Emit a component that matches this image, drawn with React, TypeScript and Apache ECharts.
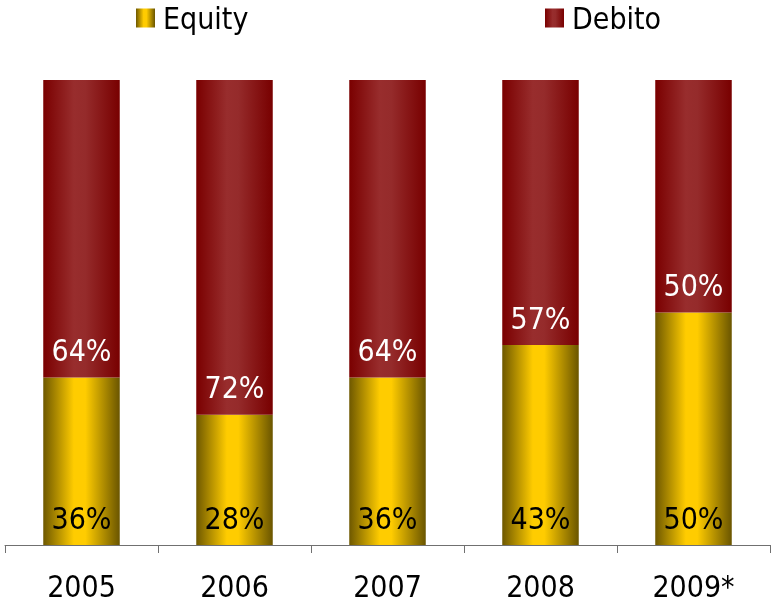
import React, { useEffect, useRef } from "react";
import * as echarts from "echarts";

const categories = ["2005", "2006", "2007", "2008", "2009*"];
const equity = [36, 28, 36, 43, 50];
const debito = [64, 72, 64, 57, 50];

const FONT = "DejaVu Sans Condensed";

const equityGrad = new echarts.graphic.LinearGradient(0, 0, 1, 0, [
  { offset: 0, color: "#6e5800" },
  { offset: 0.4, color: "#ffcc00" },
  { offset: 0.55, color: "#ffcc00" },
  { offset: 1, color: "#6a5500" },
]);
const debitoGrad = new echarts.graphic.LinearGradient(0, 0, 1, 0, [
  { offset: 0, color: "#7a0000" },
  { offset: 0.4, color: "#982d2d" },
  { offset: 0.55, color: "#952b2b" },
  { offset: 1, color: "#780000" },
]);

export default function App() {
  const ref = useRef<HTMLDivElement>(null);
  useEffect(() => {
    if (!ref.current) return;
    const chart = echarts.init(ref.current, null, { renderer: "svg" });
    chart.setOption({
      animation: false,
      textStyle: { fontFamily: FONT },
      legend: [
        {
          data: ["Equity"],
          left: 131,
          top: -2,
          icon: "rect",
          itemWidth: 19,
          itemHeight: 19,
          itemGap: 8,
          textStyle: { fontSize: 30, color: "#000", fontFamily: FONT, padding: [0, 0, 0, 3] },
        },
        {
          data: ["Debito"],
          left: 540,
          top: -2,
          icon: "rect",
          itemWidth: 19,
          itemHeight: 19,
          itemGap: 8,
          textStyle: { fontSize: 30, color: "#000", fontFamily: FONT, padding: [0, 0, 0, 3] },
        },
      ],
      grid: { left: 5, right: 4, top: 80, bottom: 58, containLabel: false },
      xAxis: {
        type: "category",
        data: categories,
        axisLine: { lineStyle: { color: "#707070", width: 1 } },
        axisTick: { show: true, length: 8, lineStyle: { color: "#707070" } },
        axisLabel: { fontSize: 30, color: "#000", margin: 26, fontFamily: FONT },
      },
      yAxis: { type: "value", min: 0, max: 100, show: false, splitLine: { show: false } },
      series: [
        {
          name: "Equity",
          type: "bar",
          stack: "s",
          data: equity,
          barWidth: "50%",
          itemStyle: { color: equityGrad },
          label: {
            show: true,
            position: "insideBottom",
            distance: 12,
            formatter: "{c}%",
            fontSize: 30,
            color: "#000",
            fontFamily: FONT,
          },
        },
        {
          name: "Debito",
          type: "bar",
          stack: "s",
          data: debito,
          barWidth: "50%",
          itemStyle: { color: debitoGrad },
          label: {
            show: true,
            position: "insideBottom",
            distance: 12,
            formatter: "{c}%",
            fontSize: 30,
            color: "#fff",
            fontFamily: FONT,
          },
        },
      ],
    });
    return () => chart.dispose();
  }, []);
  return (
    <div
      ref={ref}
      style={{ position: "fixed", left: 0, top: 0, width: 774, height: 603 }}
    />
  );
}
